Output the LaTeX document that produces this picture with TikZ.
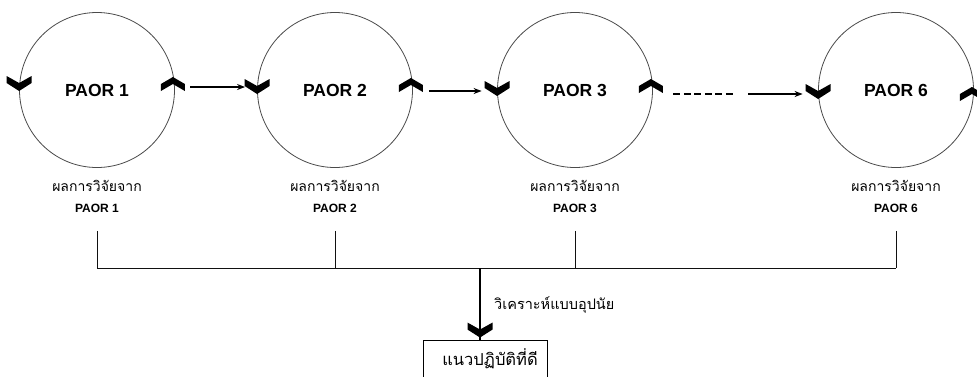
\documentclass[tikz,border=0pt]{standalone}
\usepackage{fontspec}
\setmainfont{Liberation Sans}
\newfontfamily\thaifont[Script=Thai]{Loma}
\usepackage{tikz}
\usetikzlibrary{positioning, arrows.meta, calc}
\definecolor{ringGray}{HTML}{4A4A4A}
\definecolor{wireBlack}{HTML}{111111}

\begin{document}
\begin{tikzpicture}[
  x=1pt, y=-1pt,
  every node/.style={font=\bfseries},
  ring/.style={
    circle, draw=ringGray, line width=0.8pt,
    minimum size=155pt, inner sep=0pt,
    font=\fontsize{17.5}{20}\selectfont\bfseries
  },
  resultlabel/.style={font=\thaifont\fontsize{14}{16}\selectfont, inner sep=1pt},
  paorlabel/.style={font=\fontsize{12}{14}\selectfont\bfseries, inner sep=1pt},
  wire/.style={draw=wireBlack, line width=1pt},
  flow/.style={-{Stealth[length=8pt, width=6pt]}, line width=1.8pt, black},
  outcome/.style={
    rectangle, draw=black, line width=0.9pt,
    minimum width=124pt, minimum height=42pt,
    font=\thaifont\fontsize{16.5}{18}\selectfont, text depth=7pt
  },
  chevdown/.pic={\fill[black] (-12.5,-7) -- (0,0) -- (12.5,-7) -- (12.5,0) -- (0,8) -- (-12.5,0) -- cycle;},
  chevup/.pic={\fill[black] (-12,7) -- (0,0) -- (12,7) -- (12,0) -- (0,-7) -- (-12,0) -- cycle;},
]
\useasboundingbox (0,0) rectangle (977,376);
\clip (0,0) rectangle (977,376);

% === PAOR cycles ===
\node[ring] (c1) at (97,90) {PAOR 1};
\node[ring] (c2) at (335,90) {PAOR 2};
\node[ring] (c3) at (575,90) {PAOR 3};
\node[ring] (c6) at (896,90) {PAOR 6};

% === Chevrons on the rings ===
\foreach \c/\l/\r in {c1/7/6, c2/4/5, c3/2/4, c6/-1/-4} {
  \pic at ([yshift=\l pt]\c.west) {chevdown};
  \pic at ([xshift=-2pt, yshift=\r pt]\c.east) {chevup};
}

% === Flow between cycles ===
\coordinate (dashend) at (735,94);
\coordinate (arrstart) at (748,94);
\draw[flow, shorten <=15.5pt, shorten >=12pt]
  ([yshift=3pt]c1.east) -- ([yshift=3pt]c2.west);
\draw[flow, shorten <=16pt, shorten >=15.5pt]
  ([yshift=-1pt]c2.east) -- ([yshift=-1pt]c3.west);
\draw[line width=1.8pt, dash pattern=on 7pt off 3.5pt, shorten <=20.5pt]
  ([yshift=-4pt]c3.east) -- (dashend);
\draw[flow, shorten >=15.5pt]
  (arrstart) -- (arrstart -| c6.west);

% === Results of each cycle ===
\coordinate (bar) at (0,268);
\foreach \c/\n in {c1/1, c2/2, c3/3, c6/6} {
  \node[resultlabel] (res\n) at ($(\c.center)+(0,96)$) {ผลการวิจัยจาก};
  \node[paorlabel, below=10pt of res\n] (lab\n) {PAOR \n};
  \draw[wire] ([yshift=-17pt]lab\n.south) -- (lab\n.south |- bar);
}
\draw[wire] (lab1.south |- bar) -- (lab6.south |- bar);

% === Induction to good practice ===
\coordinate (merge) at (480,268);
\node[outcome] (best) at (485,361) {\hspace*{10pt}แนวปฏิบัติที่ดี};
\draw[line width=1.4pt] (merge) -- (merge |- best.north);
\pic at ($(merge |- best.north)+(0,-10)$) {chevdown};
\node[resultlabel, anchor=west, font=\thaifont\fontsize{14.5}{16}\selectfont]
  (induct) at ($(merge)+(13,37)$) {วิเคราะห์แบบอุปนัย};

\end{tikzpicture}
\end{document}
